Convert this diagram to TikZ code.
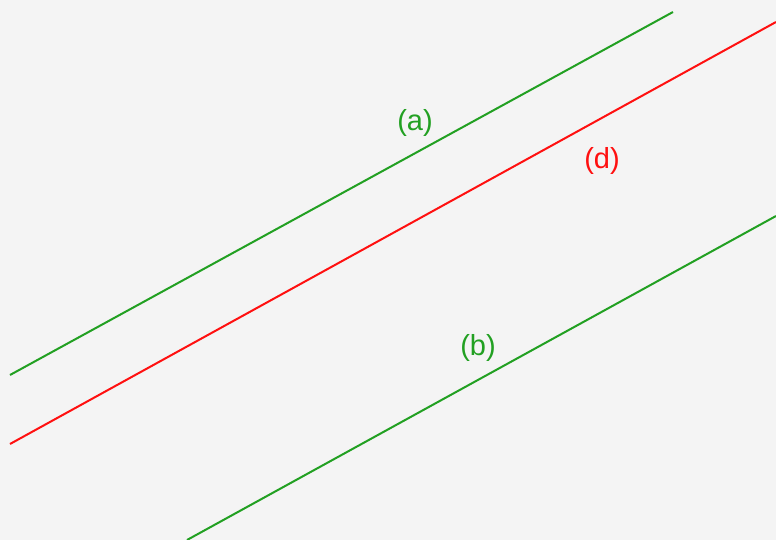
\documentclass[tikz,border=0pt]{standalone}
\usepackage{fontspec}
\setmainfont{Liberation Sans}
\definecolor{lgreen}{RGB}{34,160,34}
\definecolor{lred}{RGB}{255,16,16}
\definecolor{bg}{RGB}{244,244,244}
\begin{document}
\begin{tikzpicture}[x=1pt,y=-1pt,
  ln/.style={line width=2pt},
  lbl/.style={font=\fontsize{29}{32}\selectfont, inner sep=0pt}]
\fill[bg] (0,0) rectangle (776,540);
\useasboundingbox (0,0) rectangle (776,540);
\coordinate (a1) at (10,375);
\coordinate (a2) at (673,12);
\coordinate (d1) at (10,444);
\coordinate (d2) at (776,22);
\coordinate (b1) at (187,540);
\coordinate (b2) at (776,216);
\draw[ln,lgreen] (a1) -- (a2);
\draw[ln,lred] (d1) -- (d2);
\draw[ln,lgreen] (b1) -- (b2);
\node[lbl,text=lgreen] (la) at (415,123) {(a)};
\node[lbl,text=lred] (ld) at (602,161) {(d)};
\node[lbl,text=lgreen] (lb) at (478,348) {(b)};
\end{tikzpicture}
\end{document}
